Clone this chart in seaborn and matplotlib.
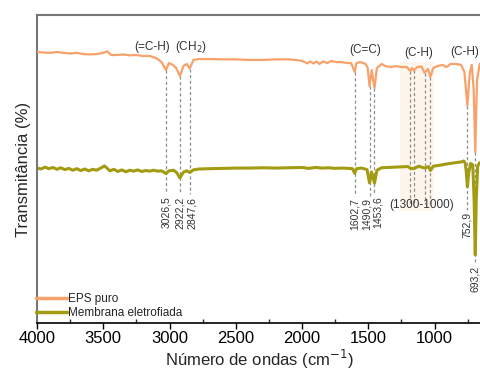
import numpy as np
import pandas as pd
import matplotlib
matplotlib.use("Agg")
import matplotlib.pyplot as plt
import seaborn as sns

# ---------------- data ----------------
eps_wn = [4000, 3950, 3900, 3850, 3800, 3750, 3700, 3650, 3600, 3550, 3500, 3470, 3440,
          3400, 3350, 3300, 3250, 3200, 3150, 3100, 3060, 3026.5, 3005, 2975, 2950, 2922.2,
          2895, 2870, 2847.6, 2820, 2780, 2700, 2600, 2500, 2400, 2300, 2200, 2100, 2050,
          2000, 1960, 1940, 1915, 1890, 1870, 1840, 1810, 1780, 1740, 1700, 1660, 1630,
          1602.7, 1590, 1560, 1520, 1505, 1490.9, 1475, 1453.6, 1435, 1400, 1370, 1330,
          1290, 1250, 1210, 1183, 1170, 1158, 1130, 1100, 1075, 1050, 1032, 1010, 980, 940,
          910, 880, 840, 800, 775, 752.9, 735, 720, 705, 693.2, 680, 660, 650]
eps_t = [88.0, 87.8, 87.7, 88.0, 87.7, 87.5, 87.7, 87.3, 87.2, 87.3, 87.7, 88.2, 87.0,
         87.0, 87.2, 86.9, 87.0, 86.7, 86.7, 86.0, 84.7, 82.1, 84.4, 83.8, 82.8, 80.2,
         83.4, 84.1, 82.6, 85.4, 85.7, 85.7, 85.6, 85.6, 85.4, 85.4, 85.6, 85.6, 85.4,
         85.1, 84.3, 84.9, 84.3, 84.9, 84.1, 84.9, 84.4, 85.1, 84.7, 84.7, 84.4, 84.4,
         81.5, 84.4, 84.7, 84.1, 82.8, 76.9, 82.1, 76.3, 82.8, 84.1, 83.4, 83.1,
         83.4, 83.1, 83.1, 81.8, 82.8, 82.0, 83.1, 83.3, 81.2, 82.5, 79.9, 82.8, 83.4, 83.8,
         83.1, 84.1, 84.1, 83.8, 81.5, 70.5, 81.2, 83.8, 75.6, 55.5, 78.9, 84.1, 84.4]

mem_wn = [4000, 3970, 3940, 3910, 3880, 3850, 3820, 3790, 3760, 3730, 3700, 3670, 3640,
          3610, 3580, 3550, 3520, 3490, 3470, 3450, 3420, 3390, 3360, 3330, 3300, 3270,
          3240, 3210, 3180, 3150, 3120, 3090, 3060, 3026.5, 3005, 2970, 2945, 2922.2, 2895,
          2870, 2847.6, 2820, 2780, 2700, 2600, 2500, 2400, 2300, 2200, 2100, 2000, 1950,
          1900, 1850, 1800, 1750, 1700, 1650, 1620, 1602.7, 1590, 1550, 1510, 1490.9, 1475,
          1453.6, 1435, 1400, 1350, 1300, 1250, 1200, 1183, 1158, 1120, 1075, 1045, 1032,
          1010, 950, 900, 850, 800, 780, 770, 762, 752.9, 742, 728, 712, 702, 693.2, 686,
          675, 660, 650]
mem_t = [50.3, 50.0, 50.6, 50.1, 50.5, 49.9, 50.4, 49.8, 50.2, 49.6, 50.1, 49.5, 50.0,
         49.4, 49.9, 49.6, 50.3, 51.0, 50.2, 49.4, 49.9, 49.2, 49.7, 49.1, 49.6, 49.3,
         49.7, 49.2, 49.5, 49.3, 49.6, 49.3, 49.4, 48.5, 49.4, 49.6, 48.8, 47.1, 49.0,
         49.4, 48.9, 49.7, 50.0, 50.1, 50.2, 50.3, 50.3, 50.4, 50.3, 50.4, 50.5, 50.2,
         50.5, 50.3, 50.4, 50.2, 50.3, 50.2, 50.1, 48.6, 50.1, 50.3, 49.8, 45.5, 49.0,
         45.4, 49.6, 50.4, 50.5, 50.6, 50.7, 50.8, 50.2, 50.1, 50.9, 50.3, 50.8, 49.5,
         50.9, 51.3, 51.7, 52.0, 52.3, 52.6, 52.0, 49.5, 44.2, 49.0, 51.8, 51.3, 40.0, 22.1, 40.0,
         51.0, 52.0, 52.0]

series_names = ["EPS puro", "Membrana eletrofiada"]
series_colors = ["#F6A26A", "#A39C12"]

peak_wn = [3026.5, 2922.2, 2847.6, 1602.7, 1490.9, 1453.6, 752.9, 693.2]
peak_labels = ["3026,5", "2922,2", "2847,6", "1602,7", "1490,9", "1453,6", "752,9", "693,2"]
region_wn = [1183, 1158, 1075, 1032]
group_labels = ["(=C-H)", "(CH$_2$)", "(C=C)", "(C-H)", "(C-H)"]
group_wn = [3135, 2842, 1526, 1120, 774]
region_label = "(1300-1000)"
region_span = [1263, 1007]
xticks = [4000, 3500, 3000, 2500, 2000, 1500, 1000]

# ---------------- figure ----------------
sns.set_theme(style="white")
plt.rcParams["font.family"] = ["Liberation Sans", "DejaVu Sans"]

fig = plt.figure(figsize=(4.81, 3.70), dpi=100)
ax = fig.add_axes([37 / 481, 1 - 323 / 370, 1 - 37 / 481, (323 - 15) / 370])

df_eps = pd.DataFrame({"wn": eps_wn, "T": eps_t, "amostra": series_names[0]})
df_mem = pd.DataFrame({"wn": mem_wn, "T": mem_t, "amostra": series_names[1]})

# shaded region
ax.fill_between(region_span, [36.5, 36.5], [84.8, 84.8], color="#FEF6EC", lw=0, zorder=0)

sns.lineplot(data=df_eps, x="wn", y="T", color=series_colors[0], lw=1.6, sort=False,
             estimator=None, ax=ax, zorder=3, label=series_names[0])
sns.lineplot(data=df_mem, x="wn", y="T", color=series_colors[1], lw=2.2, sort=False,
             estimator=None, ax=ax, zorder=2, label=series_names[1])

# peak dashed lines + labels
def t_at(wn):
    return float(np.interp(wn, eps_wn[::-1], eps_t[::-1]))

# (label x-offset in cm-1, label top in data units) -- layout only
label_layout = {3026.5: (0, 41.0), 2922.2: (0, 41.0), 2847.6: (-20, 41.0),
                1602.7: (0, 40.5), 1490.9: (25, 40.5), 1453.6: (-25, 41.0),
                752.9: (0, 36.0), 693.2: (0, 18.5)}
for w, lab in zip(peak_wn, peak_labels):
    dx, top = label_layout[w]
    ax.plot([w, w], [t_at(w), top + 0.8], ls=(0, (2.5, 2.0)), color="#8E8E8E", lw=0.9, zorder=1)
    ax.text(w + dx, top, lab, rotation=90, ha="center", va="top", fontsize=7.5, color="#333333")
for w in region_wn:
    ax.plot([w, w], [t_at(w), 38.5], ls=(0, (2.5, 2.0)), color="#8E8E8E", lw=0.9, zorder=1)

ax.text(1098, 38.2, region_label, ha="center", va="center", fontsize=8.5, color="#333333")
ys = [89.6, 89.6, 88.6, 87.7, 88.0]
for w, lab, y in zip(group_wn, group_labels, ys):
    ax.text(w, y, lab, ha="center", va="center", fontsize=8.5, color="#333333")

ax.set_xlim(4000, 650)
ax.set_ylim(0, 100)
ax.set_xticks(xticks)
ax.set_xticks([3750, 3250, 2750, 2250, 1750, 1250, 750], minor=True)
ax.set_yticks([])
ax.tick_params(axis="x", which="major", direction="out", length=4, width=1, labelsize=12,
               bottom=True, pad=2, colors="black")
ax.tick_params(axis="x", which="minor", direction="in", length=3, width=1, bottom=True)
ax.set_xlabel("Número de ondas (cm$^{-1}$)", fontsize=12, labelpad=1)
ax.set_ylabel("Transmitância (%)", fontsize=12, labelpad=4)

for s in ["top", "left"]:
    ax.spines[s].set_color("#777777")
    ax.spines[s].set_linewidth(1.5)
ax.spines["bottom"].set_color("black")
ax.spines["bottom"].set_linewidth(1.2)
ax.spines["right"].set_visible(False)

leg = ax.legend(loc="lower left", bbox_to_anchor=(-0.018, -0.01), frameon=False, fontsize=8.5,
                handlelength=2.6, handletextpad=0.1, labelspacing=0.15, borderaxespad=0.2)
for line in leg.get_lines():
    line.set_linewidth(2.5)

fig.savefig("out.png", dpi=100)
